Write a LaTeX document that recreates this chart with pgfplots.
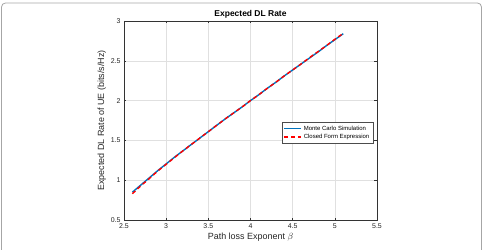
\documentclass[border=0pt]{standalone}
\usepackage{pgfplots}
\pgfplotsset{compat=1.18}
\usepackage{fontspec}
\setmainfont{Liberation Sans}
\definecolor{mblue}{rgb}{0,0.447,0.741}
\definecolor{gridc}{rgb}{0.88,0.88,0.88}
\pgfplotstableread{
x y
2.6 0.85
2.7 0.94
2.8 1.03
2.9 1.12
3.0 1.205
3.1 1.29
3.2 1.37
3.3 1.45
3.4 1.53
3.5 1.61
3.6 1.69
3.7 1.77
3.8 1.845
3.9 1.92
4.0 2.0
4.1 2.075
4.2 2.155
4.3 2.23
4.4 2.31
4.5 2.385
4.6 2.46
4.7 2.535
4.8 2.61
4.9 2.69
5.0 2.765
5.1 2.84
}\mc
\pgfplotstableread{
x y
2.6 0.83
2.7 0.93
2.8 1.02
2.9 1.115
3.0 1.20
3.1 1.285
3.2 1.37
3.3 1.45
3.4 1.53
3.5 1.61
3.6 1.69
3.7 1.77
3.8 1.845
3.9 1.92
4.0 2.0
4.1 2.075
4.2 2.155
4.3 2.23
4.4 2.31
4.5 2.385
4.6 2.46
4.7 2.54
4.8 2.615
4.9 2.69
5.0 2.77
5.1 2.845
}\cf
\begin{document}
\begin{tikzpicture}[x=1bp,y=1bp]
\useasboundingbox (-124bp,-30bp) rectangle (360bp,220bp);
\draw[gray!70, line width=0.8bp, rounded corners=4bp] (-122.5bp,-40bp) rectangle (357.5bp,217bp);
\begin{axis}[
  at={(0,0)}, anchor=south west,
  scale only axis, width=253bp, height=199bp,
  xmin=2.5, xmax=5.5, ymin=0.5, ymax=3,
  xtick={2.5,3,...,5.5}, ytick={0.5,1,...,3},
  xticklabels={2.5,3,3.5,4,4.5,5,5.5},
  yticklabels={0.5,1,1.5,2,2.5,3},
  tick align=inside, tick style={black!80, line width=0.4bp}, major tick length=2.5bp,
  axis line style={black!80, line width=0.5bp},
  grid=major, major grid style={gridc, line width=0.4bp},
  ticklabel style={font=\fontsize{7}{8}\selectfont, text=black!85},
  title={\textbf{Expected DL Rate}},
  title style={font=\fontsize{8.5}{10}\selectfont, yshift=-7bp},
  xlabel={Path loss Exponent $\beta$},
  ylabel={Expected DL Rate of UE (bits/s/Hz)},
  label style={font=\fontsize{9}{10}\selectfont, text=black!85},
  xlabel style={yshift=2bp},
  ylabel style={yshift=-2bp},
  legend style={at={(0.984,0.492)}, anchor=north east, font=\fontsize{6}{7}\selectfont,
    draw=black!70, line width=0.4bp, row sep=-1.5bp, inner sep=1.5bp},
  legend cell align=left,
  legend image post style={line width=1.2bp},
]
\addplot[mblue, line width=1.4bp] table[x=x,y=y] {\mc};
\addlegendentry{Monte Carlo Simulation}
\addplot[red, line width=1.4bp, dash pattern=on 4bp off 3bp] table[x=x,y=y] {\cf};
\addlegendentry{Closed Form Expression}
\end{axis}
\end{tikzpicture}
\end{document}
